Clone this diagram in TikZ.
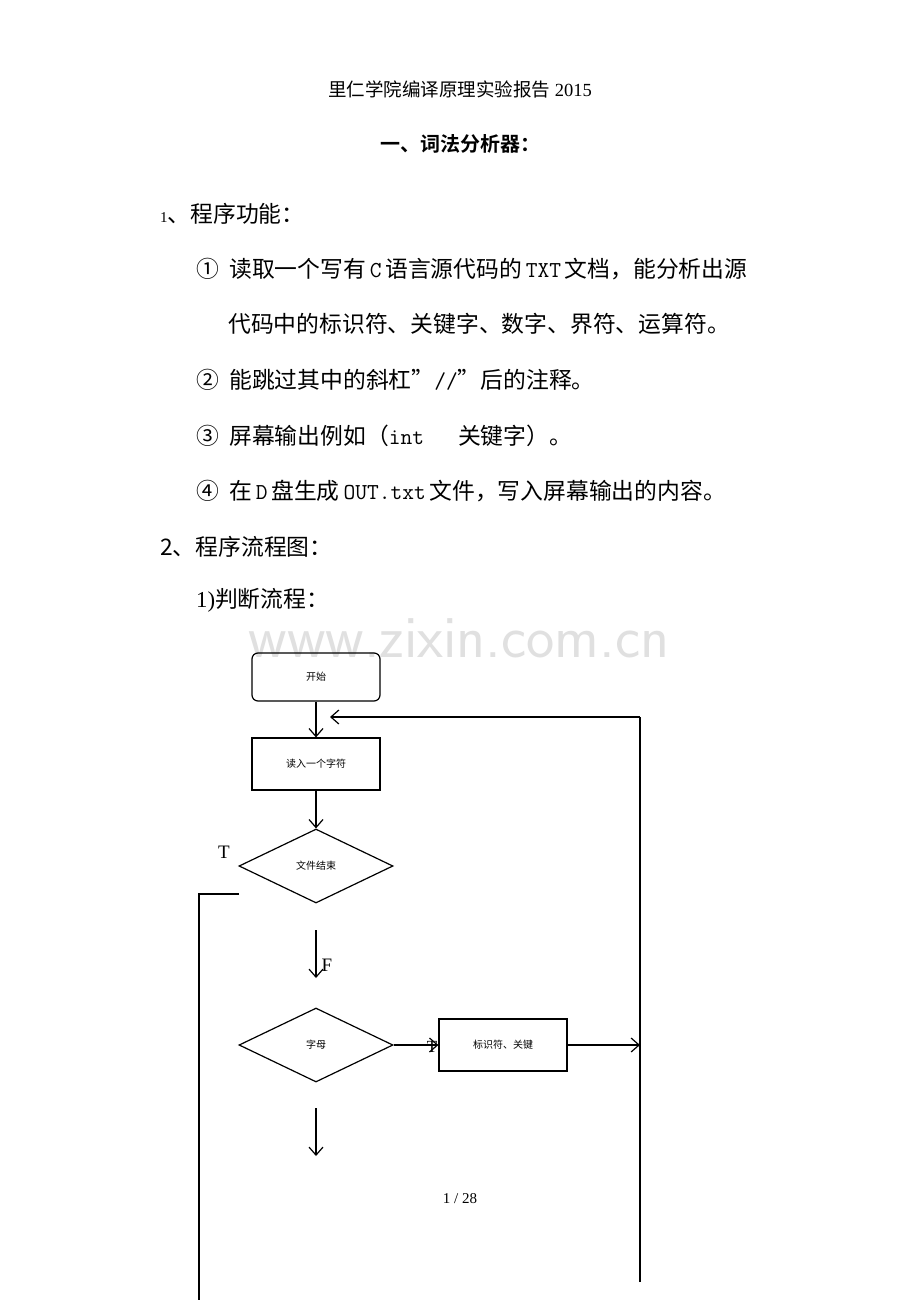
\documentclass[tikz,border=0pt]{standalone}
\usepackage{fontspec}
\setmainfont{Liberation Serif}
\newfontfamily\cjk{Noto Sans CJK SC}
\newfontfamily\cjkb{Noto Sans CJK SC}[BoldFont={* Bold}]
\usetikzlibrary{shapes.geometric,arrows.meta}
\begin{document}
\begin{tikzpicture}[x=1pt,y=-1pt,
 body/.style={anchor=west,inner sep=0,font=\cjk\fontsize{22.8}{24}\selectfont},
 small/.style={font=\cjk\fontsize{10}{12}\selectfont},
 ln/.style={line width=1.2pt},
 arr/.style={ln,-{Straight Barb[length=8pt,width=14pt]}},
 box/.style={draw,ln,minimum width=128pt,minimum height=52pt,small,inner sep=0},
 dia/.style={draw,ln,diamond,aspect=2.07,minimum width=154pt,minimum height=74pt,small,inner sep=0}]
\useasboundingbox (0,0) rectangle (920,1300);
\fill[white] (0,0) rectangle (920,1300);
\node[font=\sffamily\fontsize{60}{60}\selectfont,text=black!12,inner sep=0] (wm) at (459,638) {www.zixin.com.cn};
\node[font=\cjk\fontsize{18.5}{20}\selectfont] (t1) at (460,89) {里仁学院编译原理实验报告\rmfamily\ 2015};
\node[font=\cjkb\bfseries\fontsize{20}{22}\selectfont] (t2) at (460,144) {一、词法分析器：};
\node[body] (l1) at (160,214) {{\rmfamily\fontsize{15}{15}\selectfont 1}、程序功能：};
\node[body] (l2) at (196,269) {①\ \ 读取一个写有\,{\ttfamily C}\,语言源代码的\,{\ttfamily TXT}\,文档，能分析出源};
\node[body] (l3) at (228,324) {代码中的标识符、关键字、数字、界符、运算符。};
\node[body] (l4) at (196,380) {②\ \ 能跳过其中的斜杠”{\ttfamily//}”后的注释。};
\node[body] (l5) at (196,436) {③\ \ 屏幕输出例如（{\ttfamily int}\hspace{34pt}关键字）。};
\node[body] (l6) at (196,491) {④\ \ 在\,{\ttfamily D}\,盘生成\,{\ttfamily OUT.txt}\,文件，写入屏幕输出的内容。};
\node[body] (l7) at (160,547) {2、程序流程图：};
\node[body] (l8) at (196,600) {{\rmfamily 1)}判断流程：};
\node[box,rounded corners=6pt,minimum height=48pt] (start) at (316,677) {开始};
\node[box] (read) at (316,764) {读入一个字符};
\node[dia] (eof) at (316,866) {文件结束};
\node[dia] (alpha) at (316,1045) {字母};
\node[box] (id) at (503,1045) {标识符、关键};
\node[font=\rmfamily\fontsize{19}{19}\selectfont] (T1) at (224,852) {T};
\node[font=\rmfamily\fontsize{19}{19}\selectfont] (F1) at (327,965) {F};
\node[font=\rmfamily\fontsize{17}{17}\selectfont] (T2) at (432,1047) {T};
\node[font=\rmfamily\fontsize{15}{15}\selectfont] (pg) at (460,1199) {1 / 28};
\coordinate (e1) at (640,717);
\coordinate (e2) at (640,1282);
\coordinate (m1) at (330,717);
\coordinate (d1) at (316,930);
\coordinate (d2) at (316,978);
\coordinate (d3) at (316,1108);
\coordinate (d4) at (316,1156);
\coordinate (ta) at (239,894);
\coordinate (tb) at (199,894);
\coordinate (tc) at (199,1300);
\coordinate (id2) at (640,1045);
\draw[arr] (start) -- (read);
\draw[arr] (read) -- (eof.north);
\draw[ln] (e2) -- (e1);
\draw[arr] (e1) -- (m1);
\draw[arr] (d1) -- (d2);
\draw[arr] (d3) -- (d4);
\draw[ln] (ta) -- (tb) -- (tc);
\draw[arr] (alpha.east) -- (id.west);
\draw[arr] (id.east) -- (id2);
\end{tikzpicture}
\end{document}
